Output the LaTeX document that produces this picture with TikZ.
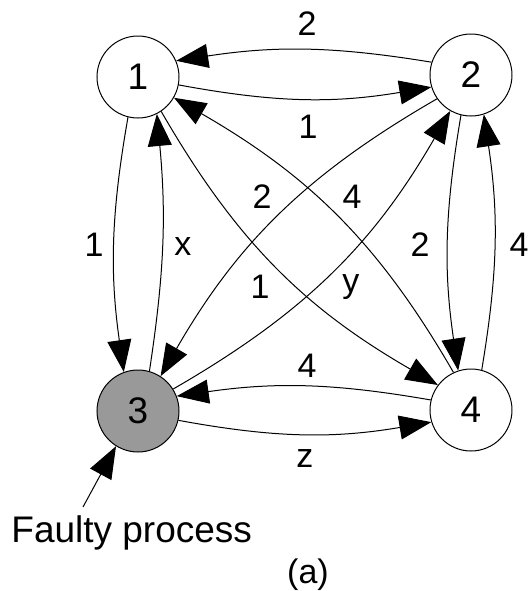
\documentclass[tikz,border=0pt]{standalone}
\usepackage{fontspec}
\setmainfont{Liberation Sans}
\usetikzlibrary{arrows.meta}
\definecolor{faulty}{RGB}{153,153,153}
\begin{document}
\begin{tikzpicture}[x=0.5pt,y=-0.5pt,
  proc/.style={circle,draw,line width=0.5pt,minimum size=41pt,inner sep=0pt,font=\fontsize{18.5}{20}\selectfont},
  msg/.style={line width=0.5pt,-{Triangle[length=16pt,width=12pt]}},
  lbl/.style={font=\fontsize{17}{19}\selectfont,inner sep=0pt}]
\useasboundingbox (0,0) rectangle (527,591);
\node[proc] (n1) at (138,77) {1};
\node[proc] (n2) at (471,75) {2};
\node[proc,fill=faulty] (n3) at (138,411) {3};
\node[proc] (n4) at (471,410) {4};
% top and bottom
\draw[msg] (n2.162) to[bend right=9] (n1.23);
\draw[msg] (n1.-11) to[bend right=10] (n2.197);
\draw[msg] (n4.166) to[bend right=9] (n3.21);
\draw[msg] (n3.-13) to[bend right=10] (n4.197);
% left and right
\draw[msg] (n1.256) to[bend right=9] (n3.110);
\draw[msg] (n3.74) to[bend right=7] (n1.-63);
\draw[msg] (n2.256) to[bend right=9] (n4.108);
\draw[msg] (n4.75) to[bend right=9] (n2.-72);
% diagonals
\draw[msg] (n1.-56) to[out=-60,in=150] (n4.143);
\draw[msg] (n4.115) to[out=120,in=-30] (n1.-30);
\draw[msg] (n2.215) to[out=210,in=60] (n3.57);
\draw[msg] (n3.32) to[out=30,in=240] (n2.240);
% labels
\node[lbl] (l21) at (307,24) {2};
\node[lbl] (l12) at (308,127) {1};
\node[lbl] (l13) at (94,245) {1};
\node[lbl,anchor=base] (l31) at (183,255) {x};
\node[lbl] (l23) at (262,197) {2};
\node[lbl] (l41) at (352,197) {4};
\node[lbl] (l14) at (260,287) {1};
\node[lbl,anchor=base] (l32) at (351,292) {y};
\node[lbl] (l24) at (420,245) {2};
\node[lbl] (l42) at (519,245) {4};
\node[lbl] (l43) at (307,366) {4};
\node[lbl,anchor=base] (l34) at (305,467) {z};
% faulty annotation
\coordinate (fp) at (83,507);
\draw[msg] (fp) -- (n3.238);
\node[anchor=base west,inner sep=0pt,font=\fontsize{18.5}{20}\selectfont] (fptext) at (11,542) {Faulty process};
\node[anchor=base,inner sep=0pt,font=\fontsize{17}{19}\selectfont] (cap) at (308,583) {(a)};
\end{tikzpicture}
\end{document}
